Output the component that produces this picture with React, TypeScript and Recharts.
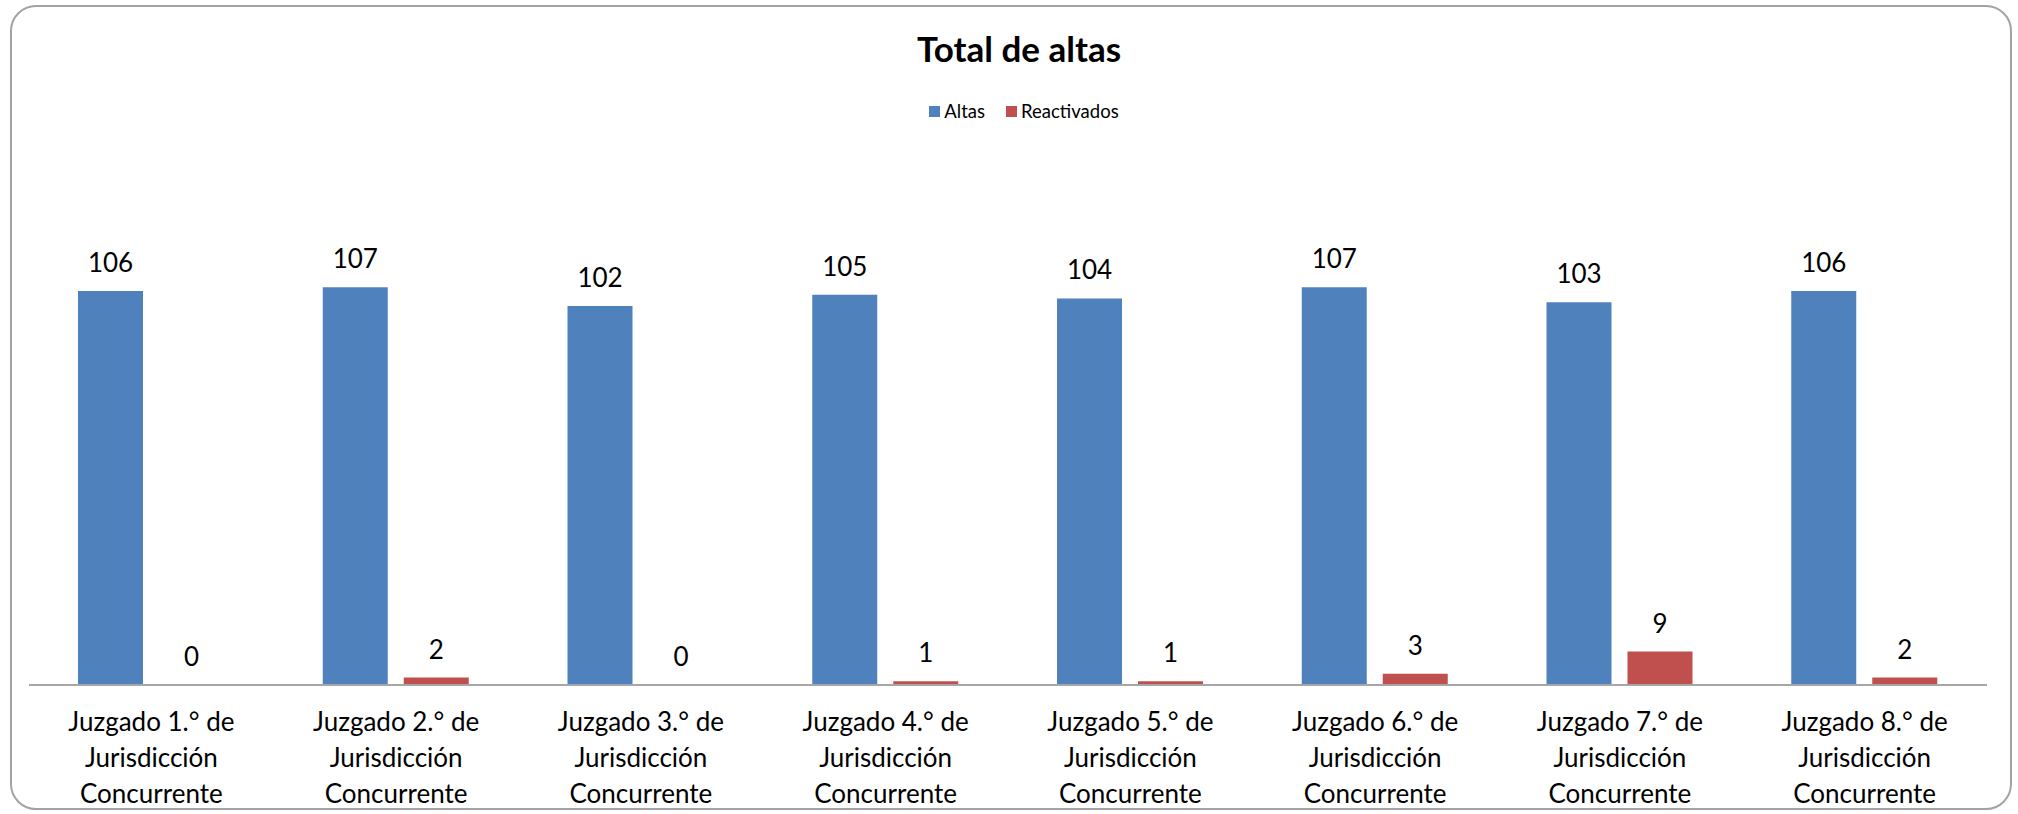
import React from 'react';
import { BarChart, Bar, XAxis, YAxis, LabelList } from 'recharts';

const categories = [
  'Juzgado 1.° de Jurisdicción Concurrente',
  'Juzgado 2.° de Jurisdicción Concurrente',
  'Juzgado 3.° de Jurisdicción Concurrente',
  'Juzgado 4.° de Jurisdicción Concurrente',
  'Juzgado 5.° de Jurisdicción Concurrente',
  'Juzgado 6.° de Jurisdicción Concurrente',
  'Juzgado 7.° de Jurisdicción Concurrente',
  'Juzgado 8.° de Jurisdicción Concurrente',
];
const altas = [106, 107, 102, 105, 104, 107, 103, 106];
const reactivados = [0, 2, 0, 1, 1, 3, 9, 2];

const data = categories.map((name, i) => ({ name, altas: altas[i], reactivados: reactivados[i] }));

const FONT = 'Lato, "Noto Sans", sans-serif';
const BLUE = '#4f81bd';
const RED = '#c0504d';

// split "Juzgado N.° de Jurisdicción Concurrente" into three lines like the original
const splitLabel = (s: string) => {
  const m = s.match(/^(.* de) (\S+) (\S+)$/);
  return m ? [m[1], m[2], m[3]] : [s];
};

const CategoryTick = (props: any) => {
  const { x, y, payload } = props;
  const lines = splitLabel(String(payload.value));
  return (
    <text x={x} y={y} textAnchor="middle" fill="#000" fontSize={26} fontFamily={FONT}>
      {lines.map((l, i) => (
        <tspan key={i} x={x} y={y + 46 + i * 36}>{l}</tspan>
      ))}
    </text>
  );
};

// draws the value above the bar, zero values included
const ValueLabel = (props: any) => {
  const { x, y, width, value } = props;
  return (
    <text x={Number(x) + Number(width) / 2} y={Number(y) - 19} textAnchor="middle" fill="#000" fontSize={26} fontFamily={FONT}>
      {value}
    </text>
  );
};

const LegendBox = () => (
  <div style={{ display: 'flex', justifyContent: 'center', alignItems: 'center', fontFamily: FONT, fontSize: 18.5, color: '#000' }}>
    <span style={{ width: 11, height: 11, background: BLUE, display: 'inline-block', marginRight: 4 }} />
    <span>Altas</span>
    <span style={{ width: 11, height: 11, background: RED, display: 'inline-block', marginLeft: 21, marginRight: 4 }} />
    <span>Reactivados</span>
  </div>
);

export default function App() {
  return (
    <div style={{ position: 'absolute', left: 0, top: 0, width: 2018, height: 814, background: '#fff', overflow: 'hidden' }}>
      <div style={{ position: 'absolute', left: 10, top: 5, width: 2002, height: 805, border: '2px solid #a3a3a3', borderRadius: 26, boxSizing: 'border-box' }} />
      <svg width={2018} height={100} style={{ position: 'absolute', left: 0, top: 0 }}>
        <text x={1019} y={62} textAnchor="middle" fontFamily={FONT} fontWeight="bold" fontSize={35} fill="#000">Total de altas</text>
      </svg>
      <div style={{ position: 'absolute', left: 0, top: 100, width: 2048 }}>
        <LegendBox />
      </div>
      <div style={{ position: 'absolute', left: 0, top: 0 }}>
        <BarChart width={2018} height={814} data={data} margin={{ top: 239, right: 31, bottom: 0, left: 29 }} barSize={65} barGap={16}>
          <XAxis dataKey="name" height={129} tickLine={false} tickSize={0} tickMargin={0} interval={0}
            axisLine={{ stroke: '#a6a6a6', strokeWidth: 2 }} tick={<CategoryTick />} />
          <YAxis hide domain={[0, 120]} />
          <Bar dataKey="altas" name="Altas" fill={BLUE} isAnimationActive={false}>
            <LabelList dataKey="altas" content={<ValueLabel />} />
          </Bar>
          <Bar dataKey="reactivados" name="Reactivados" fill={RED} minPointSize={0.01} isAnimationActive={false}>
            <LabelList dataKey="reactivados" content={<ValueLabel />} />
          </Bar>
        </BarChart>
      </div>
    </div>
  );
}
